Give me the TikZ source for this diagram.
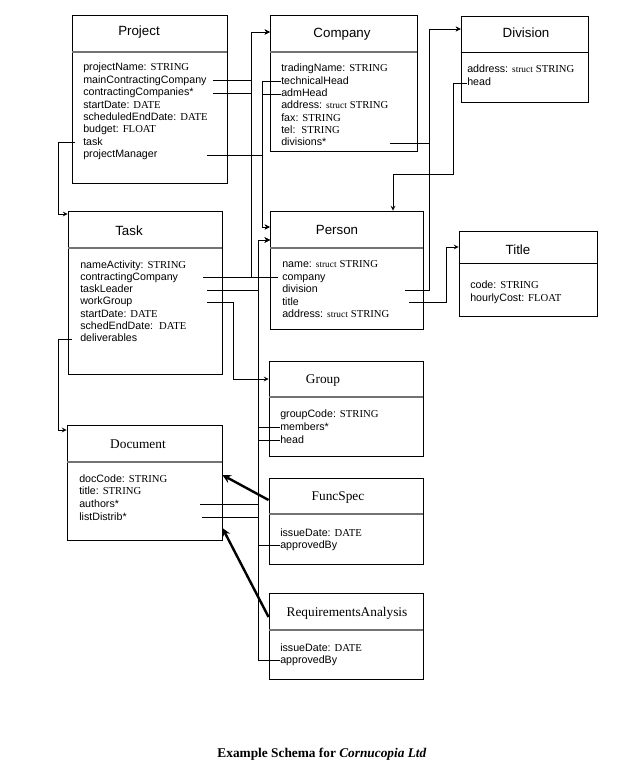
\documentclass[tikz,border=0pt]{standalone}
\usepackage{fontspec}
\setmainfont{Liberation Serif}
\setsansfont{Liberation Sans}
\usetikzlibrary{fit}

\newcommand{\ty}[1]{{\rmfamily #1}}
\newcommand{\st}{{\rmfamily\fontsize{7}{8}\selectfont struct}}

\tikzset{
    classbox/.style={draw, line width=0.65pt, inner sep=0pt},
    sepline/.style={draw=black!55, line width=1.1pt},
    attr/.style={anchor=west, inner sep=0pt, yshift=-1pt, text height=5.5pt, text depth=1.5pt,
        font=\sffamily\fontsize{8}{9}\selectfont},
    headsf/.style={anchor=base, inner sep=0pt, font=\sffamily\fontsize{10}{12}\selectfont},
    headrm/.style={anchor=base, inner sep=0pt, font=\rmfamily\fontsize{10}{12}\selectfont},
    link/.style={line width=0.6pt, -stealth},
    isa/.style={line width=1.8pt, -stealth},
}

\begin{document}
\begin{tikzpicture}[x=0.75pt, y=-0.75pt]
        \useasboundingbox (0,0) rectangle (636,766);

        \node[classbox, fit={(72,15) (227,183)}] (project) {};
        \draw[sepline] (project.west |- 0,52) -- (project.east |- 0,52);
        \node[headsf] (projectLbl) at (139,36) {Project};
        \node[attr] (pName) at (83,67) {projectName: \ty{STRING}};
        \node[attr] (pMainCo) at (83,79.5) {mainContractingCompany};
        \node[attr] (pCoList) at (83,92) {contractingCompanies*};
        \node[attr] (pStart) at (83,104.3) {startDate: \ty{DATE}};
        \node[attr] (pEnd) at (83,116.6) {scheduledEndDate: \ty{DATE}};
        \node[attr] (pBudget) at (83,129) {budget: \ty{FLOAT}};
        \node[attr] (pTask) at (83,141.4) {task};
        \node[attr] (pMgr) at (83,153.8) {projectManager};

        \node[classbox, fit={(270,15) (417,151)}] (company) {};
        \draw[sepline] (company.west |- 0,52) -- (company.east |- 0,52);
        \node[headsf] (companyLbl) at (342,38) {Company};
        \node[attr] (cName) at (281,68) {tradingName: \ty{STRING}};
        \node[attr] (cTech) at (281,80.5) {technicalHead};
        \node[attr] (cAdm) at (281,92.8) {admHead};
        \node[attr] (cAddr) at (281,105) {address: \st\ \ty{STRING}};
        \node[attr] (cFax) at (281,117.3) {fax: \ty{STRING}};
        \node[attr] (cTel) at (281,129.6) {tel:\ \ \ty{STRING}};
        \node[attr] (cDiv) at (281,142) {divisions*};

        \node[classbox, fit={(461,16) (588,102)}] (division) {};
        \draw[line width=0.65pt] (division.west |- 0,52) -- (division.east |- 0,52);
        \node[headsf] (divisionLbl) at (526,38) {Division};
        \node[attr] (vAddr) at (467,69) {address: \st\ \ty{STRING}};
        \node[attr] (vHead) at (467,82) {head};

        \node[classbox, fit={(68,211) (222,374)}] (task) {};
        \draw[sepline] (task.west |- 0,248) -- (task.east |- 0,248);
        \node[headsf] (taskLbl) at (129,235.5) {Task};
        \node[attr] (tName) at (80,264) {nameActivity: \ty{STRING}};
        \node[attr] (tCo) at (80,276.3) {contractingCompany};
        \node[attr] (tLeader) at (80,288.6) {taskLeader};
        \node[attr] (tGroup) at (80,300.9) {workGroup};
        \node[attr] (tStart) at (80,313.2) {startDate: \ty{DATE}};
        \node[attr] (tEnd) at (80,325.5) {schedEndDate:\ \ \ty{DATE}};
        \node[attr] (tDeliv) at (80,337.8) {deliverables};

        \node[classbox, fit={(270,211) (423,329)}] (person) {};
        \draw[sepline] (person.west |- 0,248) -- (person.east |- 0,248);
        \node[headsf] (personLbl) at (337,235) {Person};
        \node[attr] (qName) at (282,263.5) {name: \st\ \ty{STRING}};
        \node[attr] (qCompany) at (282,276.5) {company};
        \node[attr] (qDivision) at (282,288.8) {division};
        \node[attr] (qTitle) at (282,301) {title};
        \node[attr] (qAddr) at (282,313.3) {address: \st\ \ty{STRING}};

        \node[classbox, fit={(459,231) (597,316)}] (jobtitle) {};
        \draw[line width=0.65pt] (jobtitle.west |- 0,263) -- (jobtitle.east |- 0,263);
        \node[headsf] (jobtitleLbl) at (518,255) {Title};
        \node[attr] (iCode) at (470,284) {code: \ty{STRING}};
        \node[attr] (iCost) at (470,297) {hourlyCost: \ty{FLOAT}};

        \node[classbox, fit={(269,361) (423,456)}] (group) {};
        \draw[sepline] (group.west |- 0,397) -- (group.east |- 0,397);
        \node[headrm] (groupLbl) at (323,383.5) {Group};
        \node[attr] (gCode) at (280,413) {groupCode: \ty{STRING}};
        \node[attr] (gMembers) at (280,426) {members*};
        \node[attr] (gHead) at (280,439) {head};

        \node[classbox, fit={(67,425) (222,540)}] (document) {};
        \draw[sepline] (document.west |- 0,462) -- (document.east |- 0,462);
        \node[headrm] (documentLbl) at (138,448) {Document};
        \node[attr] (dCode) at (79,478) {docCode: \ty{STRING}};
        \node[attr] (dTitle) at (79,490.5) {title: \ty{STRING}};
        \node[attr] (dAuthors) at (79,503) {authors*};
        \node[attr] (dDistrib) at (79,516) {listDistrib*};

        \node[classbox, fit={(269,478) (423,564)}] (funcspec) {};
        \draw[sepline] (funcspec.west |- 0,514) -- (funcspec.east |- 0,514);
        \node[headrm] (funcspecLbl) at (338,500.5) {FuncSpec};
        \node[attr] (fDate) at (280,532) {issueDate: \ty{DATE}};
        \node[attr] (fApproved) at (280,544.5) {approvedBy};

        \node[classbox, fit={(269,593) (423,679)}] (reqanalysis) {};
        \draw[sepline] (reqanalysis.west |- 0,630) -- (reqanalysis.east |- 0,630);
        \node[headrm] (reqanalysisLbl) at (347,616) {RequirementsAnalysis};
        \node[attr] (rDate) at (280,647) {issueDate: \ty{DATE}};
        \node[attr] (rApproved) at (280,659) {approvedBy};

        \draw[link] ([xshift=-6pt]pTask.west) -| (58,214) -- (task.west |- 0,214);
        \draw[link] ([xshift=-6pt]tDeliv.west) -| (58,430) -- (document.west |- 0,430);

        \draw[link] (213,0 |- pMainCo) -| (251,32) -- (company.west |- 0,32);
        \draw[link] (213,0 |- pCoList) -| (251,32) -- (company.west |- 0,32);
        \draw[link] (203,0 |- tCo) -| (251,32) -- (company.west |- 0,32);
        \draw[link] ([xshift=-3pt]qCompany.west) -| (251,32) -- (company.west |- 0,32);

        \draw[link] (cTech.west) -| (262,227) -- (person.west |- 0,227);
        \draw[link] (cAdm.west) -| (262,227) -- (person.west |- 0,227);
        \draw[link] (207,0 |- pMgr) -| (262,227) -- (person.west |- 0,227);

        \draw[link] (207,0 |- tLeader) -| (258,240) -- (person.west |- 0,240);
        \draw[link] (gMembers.west) -| (258,240) -- (person.west |- 0,240);
        \draw[link] (gHead.west) -| (258,240) -- (person.west |- 0,240);
        \draw[link] (200,0 |- dAuthors) -| (258,240) -- (person.west |- 0,240);
        \draw[link] (202,0 |- dDistrib) -| (258,240) -- (person.west |- 0,240);
        \draw[link] (fApproved.west) -| (258,240) -- (person.west |- 0,240);
        \draw[link] (rApproved.west) -| (258,240) -- (person.west |- 0,240);

        \draw[link] (207,0 |- tGroup) -| (233,379) -- (group.west |- 0,379);

        \draw[link] (390,0 |- cDiv) -| (429,29) -- (division.west |- 0,29);
        \draw[link] (405,0 |- qDivision) -| (429,29) -- (division.west |- 0,29);
        \draw[link] (vHead.west) -| (453,174) -| (393,0 |- person.north);
        \draw[link] (409,0 |- qTitle) -| (446,247) -- (jobtitle.west |- 0,247);

        \draw[isa] (funcspec.west |- 0,500) -- (document.east |- 0,475);
        \draw[isa] (reqanalysis.west |- 0,617) -- (document.east |- 0,528);

        \node[anchor=base, font=\bfseries\fontsize{10}{12}\selectfont] (caption) at (322,757.5)
            {Example Schema for \textit{Cornucopia Ltd}};
\end{tikzpicture}
\end{document}
